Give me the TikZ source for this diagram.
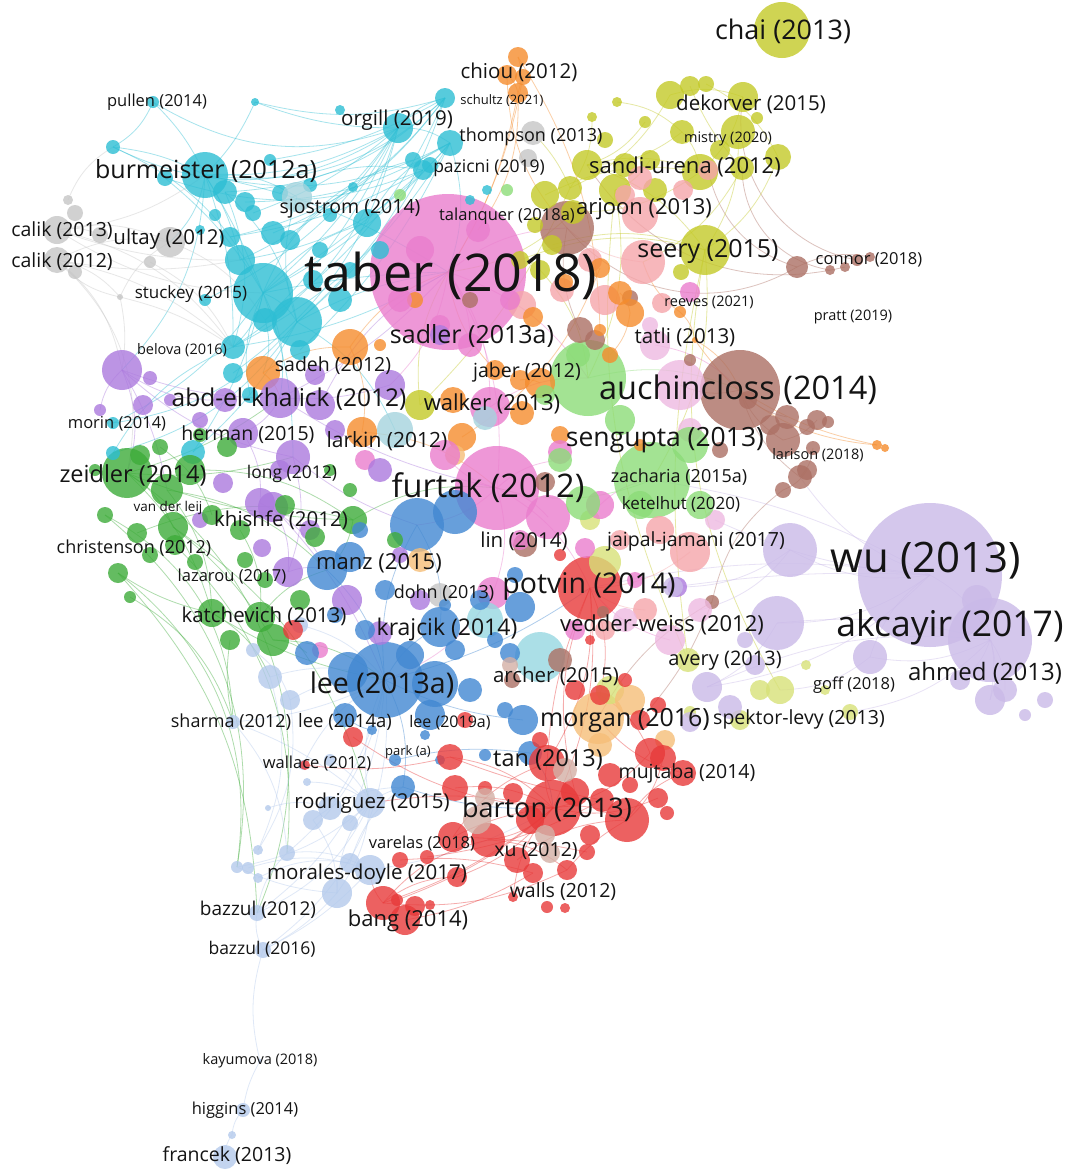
\documentclass[tikz,border=0pt]{standalone}
\usepackage{fontspec}
\setmainfont{Open Sans}
\definecolor{cyanC}{RGB}{45,190,212}
\definecolor{yelC}{RGB}{196,202,40}
\definecolor{lyelC}{RGB}{215,225,120}
\definecolor{oraC}{RGB}{245,140,45}
\definecolor{greyC}{RGB}{198,198,198}
\definecolor{pinkC}{RGB}{234,125,205}
\definecolor{lpC}{RGB}{245,165,170}
\definecolor{lilacC}{RGB}{238,185,225}
\definecolor{brownC}{RGB}{172,112,100}
\definecolor{lgreenC}{RGB}{140,220,120}
\definecolor{greenC}{RGB}{62,172,58}
\definecolor{purpC}{RGB}{172,122,222}
\definecolor{blueC}{RGB}{66,136,210}
\definecolor{redC}{RGB}{232,58,58}
\definecolor{lbC}{RGB}{180,202,236}
\definecolor{lavC}{RGB}{202,186,232}
\definecolor{tealC}{RGB}{150,215,225}
\definecolor{peachC}{RGB}{246,190,120}
\definecolor{tanC}{RGB}{212,176,166}
\definecolor{lcyC}{RGB}{165,212,222}
\def\bubsA{taber/448/272/78/pinkC,wu/930/575/72/lavC,akc/990/640/42/lavC,auch/740/390/40/brownC,
furtak/497/488/42/pinkC,lgA/588/378/38/lgreenC,lgB/652/480/38/lgreenC,potvin/590/588/32/redC,
lee/385/680/38/blueC,chai/782/30/28/yelC,arj/567/228/27/brownC,barton/553/808/28/redC,
cbig/263/293/30/cyanC,c297/297/322/25/cyanC,zeid/127/473/25/greenC,seery/705/250/25/yelC,
morganP/598/718/26/peachC,archT/540/657/25/tealC,burm/205/175/23/cyanC,bluF/417/525/27/blueC,
bluF2/455/512/22/blueC,lav1/790/550/27/lavC,lav2/777/623/27/lavC,pkA/548/517/22/pinkC,
lilA/680/385/25/lilacC,lee2/435/684/23/blueC}
\def\bubsB{y1/670/95/14/yelC,y2/690/86/10/yelC,y3/706/84/8/yelC,y4/743/97/15/yelC,y5/757/118/6/yelC,
y6/682/132/12/yelC,y7/738/132/17/yelC,y8/778/157/13/yelC,y9/587/165/15/yelC,y10/615/190/16/yelC,
y11/700/172/18/yelC,y12/742/168/12/yelC,y13/570/188/12/yelC,y14/573/212/12/yelC,y15/650/160/10/yelC,
y17/720/150/10/yelC,y19/552/245/10/yelC,y20/545/195/14/yelC,y21/617/102/5/yelC,y22/592/117/5/yelC,
y23/681/272/8/yelC,y24/645/122/6/yelC,y25/655/190/12/yelC,y26/605/140/8/yelC,y27/625/165/12/yelC,
y28/535/225/8/yelC,y29/540/270/10/yelC,y30/520/260/9/yelC,yw/420/405/15/yelC,yc1/590/520/10/lyelC,
yc2/605/562/16/lyelC,ya1/688/660/12/lyelC,ya2/780/690/14/lyelC,ya3/760/690/10/lyelC,ya4/850/712/8/lyelC,
ya5/740/720/10/lyelC,ya6/610/690/14/lyelC,ya7/690/712/6/lyelC,ya8/806/665/5/lyelC,ya9/825/690/5/lyelC,
lp1/640/215/18/lpC,lp2/643/262/22/lpC,lp3/605/300/15/lpC,lp4/590/260/12/lpC,lp5/683/190/10/lpC,
lp6/662/303/10/lpC,lp7/640/178/12/lpC,lp8/562/290/12/lpC,lp9/522/305/14/lpC,lp10/660/530/14/lpC,
lp11/690/552/20/lpC,lp12/620/540/10/lpC,lp13/645/610/12/lpC,lp14/605/630/10/lpC,lp15/708/170/10/lpC,
lp16/625/195/10/lpC,
br1/797/267/11/brownC,br2/830/270/5/brownC,br3/845/267/5/brownC,br4/857/260/6/brownC,br5/870/257/5/brownC,
br6/787/417/12/brownC,br7/817/420/10/brownC,br8/828/422/6/brownC,br9/807/427/8/brownC,br10/783/440/17/brownC,
br11/807/470/10/brownC,br12/813/448/7/brownC,br13/783/490/8/brownC,br14/800/477/12/brownC,br15/712/602/7/brownC,
br16/580/330/13/brownC,br17/595/340/10/brownC,br18/525/545/12/brownC,br19/560/660/12/brownC,br20/512/680/8/brownC,
br21/545/482/10/brownC,br22/470/300/8/brownC,br23/603/612/6/brownC,br24/630/298/8/brownC,br25/690/360/6/brownC,
br26/720/450/8/brownC,br27/748/400/9/brownC,br28/770/425/10/brownC,
or1/518/57/10/oraC,or2/507/75/10/oraC,or3/523/77/8/oraC,or4/518/93/10/oraC,or5/263/373/17/oraC,
or6/350/347/18/oraC,or7/620/293/12/oraC,or8/630/313/14/oraC,or9/600/268/10/oraC,or10/565/282/8/oraC,
or11/362/432/15/oraC,or12/462/437/14/oraC,or13/520/380/10/oraC,or14/533/317/10/oraC,or15/540/383/15/oraC,
or16/495/370/10/oraC,or17/522/413/12/oraC,or18/453/400/13/oraC,or19/680/312/6/oraC,or20/695/340/3/oraC,
or21/877/445/5/oraC,or22/885/448/4/oraC,or23/600/330/6/oraC,or24/610/355/8/oraC,or25/415/300/8/oraC,
or26/380/345/6/oraC,or27/560/435/9/oraC,or28/640/445/6/oraC,
pe1/630/700/15/peachC,pe2/600/745/12/peachC,pe3/455/455/10/peachC,pe4/420/560/12/peachC,pe5/665/740/10/peachC,
pk1/445/455/15/pinkC,pk2/560/452/12/pinkC,pk3/585/548/10/pinkC,pk4/490/407/20/pinkC,pk5/690/292/10/pinkC,
pk6/493/593/16/pinkC,pk7/520/540/10/pinkC,pk8/600/505/14/pinkC,pk9/470/345/12/pinkC,pk10/420/250/14/pinkC,
pk11/478/230/12/pinkC,pk12/400/300/12/pinkC,pk13/510/300/10/pinkC,pk14/440/325/10/pinkC,pk15/365/460/10/pinkC,
pk16/575/630/10/pinkC,pk17/635/580/8/pinkC,pk18/320/650/8/pinkC,
li1/655/345/15/lilacC,li2/670/640/15/lilacC,li3/625/620/12/lilacC,li4/700/610/12/lilacC,li5/650/325/8/lilacC,
li6/690/430/12/lilacC,li7/715/520/10/lilacC,
lg1/583/503/17/lgreenC,lg2/545/395/10/lgreenC,lg3/560/460/12/lgreenC,lg4/400/195/6/lgreenC,lg5/620/420/15/lgreenC,
lg6/700/505/14/lgreenC,lg7/640/505/14/lgreenC,lg8/690/445/18/lgreenC,lg9/578/355/12/lgreenC,lg10/507/190/6/lgreenC,
c1/225/192/12/cyanC,c2/245/202/10/cyanC,c3/165/178/8/cyanC,c4/113/147/7/cyanC,c5/240/260/15/cyanC,
c6/273/233/12/cyanC,c7/230/237/10/cyanC,c8/253/213/8/cyanC,c9/280/193/8/cyanC,c10/367/223/14/cyanC,
c11/398/128/15/cyanC,c12/423/170/10/cyanC,c13/445/98/10/cyanC,c14/450/143/13/cyanC,c15/413/160/8/cyanC,
c16/233/347/12/cyanC,c17/233/373/10/cyanC,c18/320/250/8/cyanC,c19/313/280/10/cyanC,c20/353/187/5/cyanC,
c21/153/102/6/cyanC,c22/255/102/4/cyanC,c23/113/423/6/cyanC,c24/113/453/7/cyanC,c25/193/452/12/cyanC,
c26/340/300/12/cyanC,c27/430/165/8/cyanC,c28/487/190/5/cyanC,c29/265/320/12/cyanC,c30/300/350/10/cyanC,
c31/215/215/6/cyanC,c32/200/230/5/cyanC,c33/290/240/10/cyanC,c34/330/215/7/cyanC,c35/310/185/7/cyanC,
c36/270/160/6/cyanC,c37/380/250/9/cyanC,c38/205/300/6/cyanC,c39/350/270/8/cyanC,c40/250/395/8/cyanC,
c41/340/110/5/cyanC,c42/470/200/5/cyanC,
lc1/297/197/15/lcyC,lc2/395/430/18/lcyC,lc3/485/620/18/tealC,lc4/485/418/12/lcyC,
g1/57/230/14/greyC,g2/75/213/8/greyC,g3/100/235/8/greyC,g4/57/260/13/greyC,g5/75/272/7/greyC,
g6/170/242/15/greyC,g7/120/297/3/greyC,g8/533/133/12/greyC,g9/528/158/9/greyC,g10/440/595/12/greyC,
g11/68/200/5/greyC,g12/150/262/6/greyC,
pu1/122/370/20/purpC,pu2/150/378/7/purpC,pu3/143/405/10/purpC,pu4/280/398/20/purpC,pu5/320/405/15/purpC,
pu6/390/385/15/purpC,pu7/225/400/12/purpC,pu8/243/433/15/purpC,pu9/293/457/17/purpC,pu10/280/470/10/purpC,
pu11/260/503/15/purpC,pu12/223/483/10/purpC,pu13/288/572/15/purpC,pu14/310/530/10/purpC,pu15/347/600/15/purpC,
pu16/273/507/15/purpC,pu17/200/520/8/purpC,pu18/380/633/12/purpC,pu19/420/600/10/purpC,pu20/440/335/10/purpC,
pu21/677/587/10/purpC,pu22/170/400/6/purpC,pu23/200/420/8/purpC,pu24/335/430/10/purpC,pu25/380/470/12/purpC,
pu26/400/555/8/purpC,pu27/100/410/6/purpC,pu28/315/375/10/purpC,pu29/262/548/9/purpC,
gr1/167/490/16/greenC,gr2/190/470/15/greenC,gr3/173/527/15/greenC,gr4/137/533/10/greenC,gr5/175/545/10/greenC,
gr6/118/573/10/greenC,gr7/130/597/6/greenC,gr8/195/562/8/greenC,gr9/212/515/10/greenC,gr10/212/613/14/greenC,
gr11/260/617/15/greenC,gr12/273/640/16/greenC,gr13/230/640/10/greenC,gr14/353/520/14/greenC,gr15/315/537/10/greenC,
gr16/285/505/10/greenC,gr17/265/580/8/greenC,gr18/245/560/8/greenC,gr19/200/435/7/greenC,gr20/330/470/6/greenC,
gr21/395/540/8/greenC,gr22/160/447/8/greenC,gr23/227/447/10/greenC,gr24/105/515/8/greenC,gr25/150/555/8/greenC,
gr26/240/530/10/greenC,gr27/300/600/10/greenC,gr28/350/490/7/greenC,gr29/95/470/6/greenC,gr30/140/455/10/greenC,
bl1/348/672/20/blueC,bl2/430/715/15/blueC,bl3/307/653/12/blueC,bl4/345/715/12/blueC,bl5/327/570/20/blueC,
bl6/350/557/15/blueC,bl7/440/627/20/blueC,bl8/520/607/15/blueC,bl9/480/600/10/blueC,bl10/523/720/15/blueC,
bl11/530/753/12/blueC,bl12/505/710/8/blueC,bl13/485/755/6/blueC,bl14/510/653/10/blueC,bl15/455/650/10/blueC,
bl16/395/760/6/blueC,bl17/403/787/12/blueC,bl18/372/730/5/blueC,bl19/445/605/6/blueC,bl20/335/615/8/blueC,
bl21/385/590/10/blueC,bl22/470/690/12/blueC,bl23/495/640/8/blueC,bl24/410/655/14/blueC,bl25/365/630/10/blueC,
bl26/440/760/5/blueC,bl27/425/735/5/blueC,bl28/515/575/8/blueC,bl29/360/530/8/blueC,
lb1/270/677/12/lbC,lb2/253/650/7/lbC,lb3/233/722/7/lbC,lb4/370/803/15/lbC,lb5/330/808/12/lbC,
lb6/313/820/10/lbC,lb7/350/823/8/lbC,lb8/350/863/10/lbC,lb9/370/870/15/lbC,lb10/337/893/15/lbC,
lb11/287/853/8/lbC,lb12/237/867/6/lbC,lb13/248/868/6/lbC,lb14/258/878/5/lbC,lb15/258/850/5/lbC,
bz12/257/913/8/lbC,bz16/263/950/8/lbC,hig/243/1110/7/lbC,lb16/232/1135/4/lbC,fran/225/1157/12/lbC,
lb17/307/782/4/lbC,lb18/268/808/3/lbC,lb19/303/765/5/lbC,lb20/290/700/10/lbC,lb21/330/760/6/lbC,
kay/260/1061/2/lbC,lb23/300/625/8/lbC,
rd1/450/757/13/redC,rd2/455/788/13/redC,rd3/485/788/7/redC,rd4/513/793/10/redC,rd5/547/763/18/redC,
rd6/627/820/22/redC,rd7/602/800/12/redC,rd8/650/753/15/redC,rd9/663/758/13/redC,rd10/683/773/13/redC,
rd11/658/798/10/redC,rd12/667/813/7/redC,rd13/453/837/15/redC,rd14/488/840/17/redC,rd15/517/860/13/redC,
rd16/587/852/8/redC,rd17/567/870/10/redC,rd18/533/873/10/redC,rd19/547/907/6/redC,rd20/565/908/5/redC,
rd21/513/897/5/redC,rd22/457/877/10/redC,rd23/427/857/7/redC,rd24/400/860/8/redC,rd25/397/900/6/redC,
bang/383/903/17/redC,rd26/405/920/15/redC,rd27/415/906/10/redC,rd28/430/905/5/redC,rd29/305/765/5/redC,
rd30/353/737/10/redC,rd31/293/630/10/redC,rd32/625/680/7/redC,rd33/600/695/10/redC,rd34/575/690/10/redC,
rd35/560/555/6/redC,rd36/590/640/5/redC,rd37/640/720/10/redC,rd38/658/705/8/redC,rd39/575/792/14/redC,
rd40/610/775/12/redC,rd41/530/820/14/redC,rd42/630/785/8/redC,rd43/590/835/10/redC,rd45/465/720/8/redC,
rd46/540/740/8/redC,
tn1/485/798/10/tanC,tn2/477/820/14/tanC,tn3/550/853/10/tanC,tn5/565/770/12/tanC,tn6/545/835/10/tanC,tn7/510/665/8/tanC,
lv1/870/657/17/lavC,lv2/1005/690/12/lavC,lv3/1025/715/6/lavC,lv4/990/700/15/lavC,lv5/707/687/15/lavC,
lv6/730/707/12/lavC,lv7/755/665/10/lavC,lv8/690/722/10/lavC,lv9/977/600/15/lavC,lv10/673/587/10/lavC,
lv11/960/680/10/lavC,lv12/1045/700/8/lavC,lv14/745/640/8/lavC}
\def\edgesL{c21/burm/10/cyanC,c21/c11/-25/cyanC,c4/c11/-30/cyanC,burm/c11/-15/cyanC,burm/c13/-25/cyanC,
burm/taber/10/cyanC,burm/cbig/5/cyanC,burm/lc1/0/cyanC,cbig/c11/-10/cyanC,cbig/c14/-10/cyanC,
cbig/c297/0/cyanC,cbig/taber/5/cyanC,c16/burm/-10/cyanC,c5/c11/-15/cyanC,c297/lc1/0/cyanC,
c11/c14/0/cyanC,c11/c13/0/cyanC,c14/taber/0/cyanC,cbig/c16/0/cyanC,burm/g6/0/cyanC,
c23/cbig/-15/cyanC,cbig/c10/0/cyanC,c3/cbig/10/cyanC,c1/c297/0/cyanC,c4/cbig/20/cyanC,
c7/c12/-10/cyanC,c29/c13/-15/cyanC,c16/c11/-20/cyanC,c2/c14/-15/cyanC,c24/c297/-20/cyanC,
c25/cbig/-10/cyanC,c22/c11/-10/cyanC,c22/burm/10/cyanC,c9/c12/0/cyanC,c33/c15/0/cyanC,
burm/pu1/20/cyanC,cbig/pu4/0/cyanC,c297/lc2/0/cyanC,
c5/c14/-20/cyanC,c6/c13/-15/cyanC,c8/c11/-10/cyanC,c1/c13/-20/cyanC,cbig/c12/-5/cyanC,c29/c11/-10/cyanC,
c16/c14/-15/cyanC,c297/c12/-10/cyanC,c297/c13/-15/cyanC,burm/c14/-20/cyanC,c3/c12/-20/cyanC,c7/c13/-20/cyanC,
c17/c11/-20/cyanC,c30/c14/-10/cyanC,c38/c11/-15/cyanC,c4/burm/10/cyanC,c21/c4/0/cyanC,c22/c13/-15/cyanC,
c36/c13/-10/cyanC,cbig/c20/0/cyanC,c10/c14/0/cyanC,c297/taber/10/cyanC,c16/taber/-10/cyanC,c40/cbig/0/cyanC,
c23/c297/-20/cyanC,c24/c16/0/cyanC,c25/c297/-10/cyanC,cbig/pu9/10/cyanC,c29/or5/0/cyanC,burm/c5/10/cyanC,c1/c16/20/cyanC,
g1/g6/0/greyC,g4/g6/0/greyC,g1/cbig/-15/greyC,g4/c16/15/greyC,g1/burm/-15/greyC,g7/g4/0/greyC,
g7/g6/0/greyC,g7/c16/10/greyC,g4/pu1/20/greyC,g1/c5/-10/greyC,g11/c4/0/greyC,g4/zeid/30/greyC,
g1/g3/0/greyC,g4/g7/0/greyC,g6/c29/0/greyC,g1/c16/20/greyC,g4/c5/-10/greyC,g12/c16/0/greyC,g7/pu1/10/greyC,
zeid/gr10/15/greenC,zeid/bz12/40/greenC,gr6/bz12/20/greenC,zeid/gr14/-10/greenC,gr10/lee/-10/greenC,
gr12/lee/0/greenC,gr3/lb4/20/greenC,zeid/pu4/-10/greenC,gr4/gr14/0/greenC,gr1/bl5/0/greenC,
gr6/lb12/30/greenC,gr24/lb3/30/greenC,gr14/furtak/0/greenC,gr11/bl5/0/greenC,
gr1/gr10/0/greenC,gr3/gr12/10/greenC,gr6/gr10/-10/greenC,gr24/lb12/30/greenC,gr7/lb3/20/greenC,zeid/gr3/0/greenC,
gr2/gr14/0/greenC,gr10/lb1/0/greenC,gr13/lb3/-10/greenC,gr12/bl3/0/greenC,gr14/bl5/0/greenC,zeid/pu9/-10/greenC,
gr22/gr9/0/greenC,gr26/gr11/0/greenC,gr5/lb11/25/greenC,
pu1/pu4/-10/purpC,pu1/zeid/20/purpC,pu4/pu8/0/purpC,pu4/taber/-10/purpC,pu9/pu13/0/purpC,
pu11/bl5/0/purpC,pu1/pu9/-15/purpC,pu4/furtak/-10/purpC,pu16/lee/10/purpC,pu27/pu1/0/purpC,
pu4/pu6/-10/purpC,pu8/pu11/0/purpC,pu13/bl5/0/purpC,pu7/pu1/0/purpC,pu9/bluF/-10/purpC,pu16/pu13/0/purpC,
pu5/taber/0/purpC,pu1/gr1/10/purpC,
fran/lb16/0/lbC,lb16/hig/0/lbC,hig/kay/10/lbC,kay/bz16/15/lbC,bz16/bz12/0/lbC,bz16/lb10/-10/lbC,
bz12/lb4/-20/lbC,bz16/lee/-30/lbC,bz12/lb11/0/lbC,lb10/lb4/0/lbC,lb4/lee/0/lbC,lb3/lee/-10/lbC,
lb3/lb4/10/lbC,lb20/lee/0/lbC,lb12/lb10/-10/lbC,lb6/bl17/0/lbC,lb9/barton/-10/lbC,lb8/bl17/0/lbC,
lb19/lee/0/lbC,lb15/lb1/-20/lbC,lb11/lb9/0/lbC,lb21/lb4/0/lbC,
lb4/lb10/15/lbC,lb5/lee/-10/lbC,lb6/lb10/0/lbC,lb11/lee/-20/lbC,lb12/lb4/-15/lbC,lb13/lb9/0/lbC,
lb14/lb8/0/lbC,bz12/lee/-25/lbC,lb3/lb11/0/lbC,lb2/lb20/0/lbC,lb1/lee/0/lbC,lb17/lb4/0/lbC,
lb18/lb5/0/lbC,bz16/lb9/-10/lbC,lb15/lb20/-20/lbC,lb7/bl17/0/lbC,lb23/lee/0/lbC,
lee/bluF/0/blueC,lee/bl7/0/blueC,lee/bl17/0/blueC,bl17/barton/-10/blueC,bl10/lee/10/blueC,
bl5/lee/0/blueC,bluF/bl7/0/blueC,bl11/barton/0/blueC,lee/potvin/-10/blueC,bl16/bl11/10/blueC,bl18/bl4/0/blueC,
barton/bang/10/redC,barton/potvin/-15/redC,barton/rd5/0/redC,barton/rd6/0/redC,barton/rd14/0/redC,
bang/rd14/0/redC,bang/lb9/0/redC,rd6/rd10/0/redC,rd10/morganP/0/redC,rd8/barton/0/redC,
rd22/barton/-15/redC,rd21/barton/0/redC,rd13/rd5/0/redC,rd25/barton/-10/redC,rd30/barton/-15/redC,
rd29/rd1/-10/redC,potvin/rd5/0/redC,potvin/rd33/0/redC,rd17/rd6/10/redC,rd24/rd18/10/redC,
bang/rd17/-15/redC,rd23/rd7/-10/redC,rd1/rd7/-5/redC,rd13/rd16/5/redC,
rd1/barton/0/redC,rd2/barton/0/redC,rd13/barton/10/redC,rd14/rd17/0/redC,rd15/rd6/0/redC,bang/rd22/0/redC,
rd26/rd18/-10/redC,rd9/rd6/0/redC,rd11/barton/0/redC,rd39/potvin/0/redC,rd33/rd8/0/redC,barton/lb4/-10/redC,rd5/potvin/10/redC,
br1/arj/40/brownC,br1/lp15/30/brownC,br3/y9/35/brownC,br14/auch/0/brownC,br13/br15/-20/brownC,
br15/morganP/-15/brownC,br15/rd37/10/brownC,br10/auch/0/brownC,br16/arj/0/brownC,wu/br14/0/lavC,
br1/br5/0/brownC,br2/y12/40/brownC,br4/y4/45/brownC,br6/auch/0/brownC,br7/br10/0/brownC,br11/br13/0/brownC,
br12/br14/0/brownC,auch/lilA/0/brownC,
or19/or20/0/oraC,or20/or21/-25/oraC,or20/auch/0/oraC,or1/or4/0/oraC,or4/taber/10/oraC,or4/pk11/0/oraC,
or2/arj/-20/oraC,or5/or6/0/oraC,or6/taber/0/oraC,or11/furtak/0/oraC,or21/auch/10/oraC,or8/or24/0/oraC,
or19/lp2/0/oraC,or7/or8/0/oraC,or9/or12/0/oraC,or13/or15/0/oraC,or6/or11/0/oraC,or5/pu4/0/oraC,
or16/taber/0/oraC,or2/or4/0/oraC,or3/taber/10/oraC,or1/or23/15/oraC,
y9/y11/0/yelC,y4/y11/0/yelC,y7/seery/0/yelC,y9/seery/0/yelC,y8/seery/0/yelC,y11/y14/0/yelC,
y6/y9/0/yelC,y1/y13/0/yelC,y14/taber/0/yelC,seery/ya2/-20/yelC,y10/ya1/-15/yelC,y29/lgA/0/yelC,
y13/g8/-10/yelC,yw/taber/0/yelC,y12/lp2/0/yelC,seery/lgB/0/yelC,
y1/y4/0/yelC,y6/y11/0/yelC,y2/y12/-10/yelC,y15/y10/0/yelC,y20/y11/0/yelC,y19/seery/0/yelC,
y24/y9/0/yelC,y22/y13/0/yelC,y21/y6/0/yelC,y3/y8/0/yelC,y10/lgA/0/yelC,y13/yw/10/yelC,y30/seery/0/yelC,seery/ya1/-10/yelC,
wu/lav1/0/lavC,wu/akc/0/lavC,wu/lv10/-5/lavC,wu/li7/10/lavC,wu/lv5/0/lavC,akc/lv1/0/lavC,
akc/lv9/0/lavC,akc/lv5/-15/lavC,wu/potvin/-10/lavC,lv1/ya2/0/lavC,akc/ya4/0/lavC,wu/lgB/-10/lavC,akc/lv2/0/lavC,
lav1/lv10/0/lavC,lav2/akc/10/lavC,lv1/wu/0/lavC,akc/lv11/0/lavC,lav2/lv5/0/lavC,lav1/li4/0/lavC,
akc/lv4/0/lavC,wu/lav2/0/lavC,lv9/lv4/0/lavC,
taber/furtak/0/pinkC,taber/pk4/0/pinkC,furtak/pk6/0/pinkC,furtak/potvin/0/pinkC,taber/lgA/0/pinkC,
taber/pu6/0/pinkC,furtak/pkA/0/pinkC,taber/arj/0/pinkC,pk6/lee/0/pinkC,li2/potvin/0/pinkC,
li1/auch/0/pinkC,lp11/potvin/0/lpC,lp13/potvin/0/lpC,lgB/furtak/0/lgreenC,lgA/auch/0/lgreenC,lp2/arj/0/lpC,
furtak/lg3/0/pinkC,taber/pk9/0/pinkC,furtak/pk1/0/pinkC,pk4/lgA/0/pinkC,pk8/lgB/0/pinkC,furtak/bluF/0/pinkC}
\newcommand\lbl[5]{\node[lab,font=\fontsize{#4}{#4}\selectfont] (#1) at (#2,#3) {#5};}
\begin{document}
\begin{tikzpicture}[x=1pt,y=-1pt,lab/.style={inner sep=0pt,text=black!92},
  bub/.style={fill opacity=0.8},
  lnk/.style={line width=0.8pt,draw opacity=0.42}]
\useasboundingbox (0,0) rectangle (1069,1170);
\fill[white] (0,0) rectangle (1069,1170);
\foreach \nn/\xx/\yy/\rr/\cc in \bubsA {\coordinate (\nn) at (\xx,\yy);}
\foreach \nn/\xx/\yy/\rr/\cc in \bubsB {\coordinate (\nn) at (\xx,\yy);}
\foreach \aa/\bb/\bd/\cc in \edgesL {\pgfmathsetmacro{\bdd}{(\bd==0)*18+\bd}
  \draw[lnk,\cc] (\aa) to[bend left=\bdd] (\bb);}
\foreach \nn/\xx/\yy/\rr/\cc in \bubsA {\fill[bub,\cc] (\nn) circle[radius=\rr pt];}
\foreach \nn/\xx/\yy/\rr/\cc in \bubsB {\fill[bub,\cc] (\nn) circle[radius=\rr pt];}
\lbl{Lchai}{783}{31}{27}{chai (2013)}
\lbl{Lchiou}{519}{72}{20.5}{chiou (2012)}
\lbl{Lpullen}{157}{102}{16.5}{pullen (2014)}
\lbl{Lschultz}{502}{101}{13}{schultz (2021)}
\lbl{Ldekorver}{751}{104}{20.5}{dekorver (2015)}
\lbl{Lorgill}{397}{120}{20.5}{orgill (2019)}
\lbl{Lthompson}{531}{137}{18}{thompson (2013)}
\lbl{Lmistry}{728}{139}{14.5}{mistry (2020)}
\lbl{Lburm}{206}{171}{25}{burmeister (2012a)}
\lbl{Lpazicni}{489}{168}{17.5}{pazicni (2019)}
\lbl{Lsandi}{685}{167}{22}{sandi-urena (2012)}
\lbl{Lsjostrom}{350}{209}{19.5}{sjostrom (2014)}
\lbl{Ltalanquer}{507}{216}{16.5}{talanquer (2018a)}
\lbl{Larjoon}{644}{209}{22}{arjoon (2013)}
\lbl{Lcalika}{62}{231}{19.5}{calik (2013)}
\lbl{Lultay}{169}{239}{20.5}{ultay (2012)}
\lbl{Lcalikb}{62}{262}{19.5}{calik (2012)}
\lbl{Ltaber}{451}{276}{52}{taber (2018)}
\lbl{Lseery}{708}{251}{25}{seery (2015)}
\lbl{Lconnor}{869}{260}{16.5}{connor (2018)}
\lbl{Lstuckey}{191}{294}{17}{stuckey (2015)}
\lbl{Lreeves}{709}{302}{14.5}{reeves (2021)}
\lbl{Lpratt}{853}{317}{14.5}{pratt (2019)}
\lbl{Lsadler}{472}{336}{25}{sadler (2013a)}
\lbl{Ltatli}{685}{337}{20.5}{tatli (2013)}
\lbl{Lbelova}{182}{350}{14.5}{belova (2016)}
\lbl{Lsadeh}{333}{366}{19.5}{sadeh (2012)}
\lbl{Ljaber}{527}{372}{19.5}{jaber (2012)}
\lbl{Lauch}{738}{390}{32.5}{auchincloss (2014)}
\lbl{Labd}{289}{399}{24.5}{abd-el-khalick (2012)}
\lbl{Lwalker}{492}{404}{22}{walker (2013)}
\lbl{Lmorin}{117}{424}{16.5}{morin (2014)}
\lbl{Lherman}{248}{435}{19.5}{herman (2015)}
\lbl{Llarkin}{387}{441}{21}{larkin (2012)}
\lbl{Lsengupta}{665}{440}{26.5}{sengupta (2013)}
\lbl{Llarison}{818}{455}{14.5}{larison (2018)}
\lbl{Lzeidler}{133}{475}{23.5}{zeidler (2014)}
\lbl{Llong}{292}{474}{17.5}{long (2012)}
\lbl{Lfurtak}{488}{488}{32.5}{furtak (2012)}
\lbl{Lzacharia}{679}{477}{18}{zacharia (2015a)}
\lbl{Lketelhut}{681}{504}{17}{ketelhut (2020)}
\lbl{Lvdl}{168}{508}{13.5}{van der leij}
\lbl{Lkhishfe}{281}{520}{20.5}{khishfe (2012)}
\lbl{Lchristenson}{134}{548}{18}{christenson (2012)}
\lbl{Llin}{524}{541}{20.5}{lin (2014)}
\lbl{Ljaipal}{696}{541}{19.5}{jaipal-jamani (2017)}
\lbl{Lwu}{926}{561}{42}{wu (2013)}
\lbl{Lmanz}{379}{563}{22}{manz (2015)}
\lbl{Llazarou}{232}{577}{16.5}{lazarou (2017)}
\lbl{Ldohn}{444}{593}{18}{dohn (2013)}
\lbl{Lpotvin}{589}{586}{28.5}{potvin (2014)}
\lbl{Lkatchevich}{264}{616}{20.5}{katchevich (2013)}
\lbl{Lkrajcik}{447}{630}{23}{krajcik (2014)}
\lbl{Lvedder}{662}{625}{22}{vedder-weiss (2012)}
\lbl{Lakcayir}{950}{627}{35.5}{akcayir (2017)}
\lbl{Lavery}{725}{661}{20}{avery (2013)}
\lbl{Llee}{382}{685}{28.5}{lee (2013a)}
\lbl{Larcher}{556}{676}{20.5}{archer (2015)}
\lbl{Lgoff}{854}{685}{16.5}{goff (2018)}
\lbl{Lahmed}{985}{673}{24}{ahmed (2013)}
\lbl{Lsharma}{231}{722}{18}{sharma (2012)}
\lbl{Llee14}{345}{722}{18.5}{lee (2014a)}
\lbl{Llee19}{450}{723}{16}{lee (2019a)}
\lbl{Lmorgan}{625}{720}{25}{morgan (2016)}
\lbl{Lspektor}{799}{719}{19.5}{spektor-levy (2013)}
\lbl{Lpark}{408}{752}{13}{park (a)}
\lbl{Lwallace}{317}{764}{16.5}{wallace (2012)}
\lbl{Ltan}{548}{760}{23.5}{tan (2013)}
\lbl{Lmujtaba}{687}{773}{19.5}{mujtaba (2014)}
\lbl{Lrodriguez}{372}{803}{20.5}{rodriguez (2015)}
\lbl{Lbarton}{547}{809}{27}{barton (2013)}
\lbl{Lvarelas}{422}{844}{16.5}{varelas (2018)}
\lbl{Lxu}{536}{851}{19.5}{xu (2012)}
\lbl{Lmorales}{367}{874}{20.5}{morales-doyle (2017)}
\lbl{Lwalls}{563}{892}{19.5}{walls (2012)}
\lbl{Lbazzula}{258}{910}{19}{bazzul (2012)}
\lbl{Lbang}{408}{921}{22}{bang (2014)}
\lbl{Lbazzulb}{262}{949}{17.5}{bazzul (2016)}
\lbl{Lkayumova}{260}{1061}{14.5}{kayumova (2018)}
\lbl{Lhiggins}{245}{1110}{16.5}{higgins (2014)}
\lbl{Lfrancek}{227}{1156}{19.5}{francek (2013)}
\end{tikzpicture}
\end{document}
